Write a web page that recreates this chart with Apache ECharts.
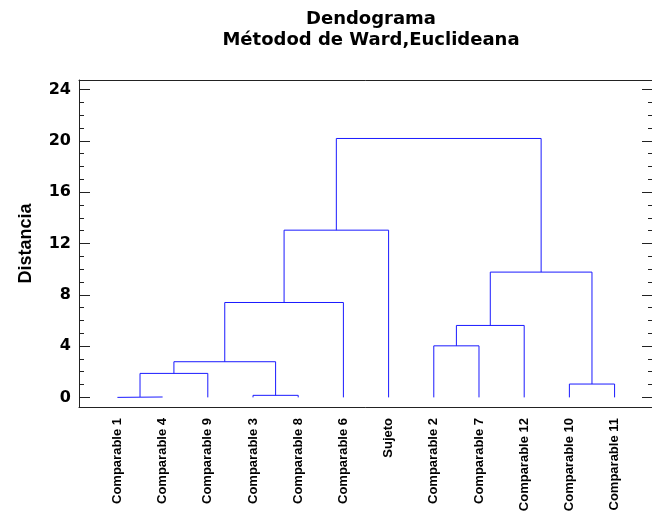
<!DOCTYPE html>
<html>
<head>
<meta charset="utf-8">
<script src="https://cdn.jsdelivr.net/npm/echarts@6/dist/echarts.min.js"></script>
<style>html,body{margin:0;padding:0;background:#fff}#c{width:652px;height:519px}</style>
</head>
<body>
<div id="c"></div>
<script>
// Leaves in dendrogram order
const leafNames = ['Comparable 1','Comparable 4','Comparable 9','Comparable 3','Comparable 8','Comparable 6','Sujeto','Comparable 2','Comparable 7','Comparable 12','Comparable 10','Comparable 11'];
// Merges: node ids 0..11 are leaves, each merge creates node 12, 13, ...
const mergeLeft   = [0, 12, 3, 13, 15, 16, 7, 18, 10, 19, 17];
const mergeRight  = [1, 2, 4, 14, 5, 6, 8, 9, 11, 20, 21];
const mergeHeight = [0.03, 1.87, 0.16, 2.78, 7.40, 13.04, 4.02, 5.61, 1.04, 9.77, 20.19];
const yTicksMajor = [0, 4, 8, 12, 16, 20, 24];
const yTicksMinor = [1,2,3,5,6,7,9,10,11,13,14,15,17,18,19,21,22,23];

const nodeX = leafNames.map((_, i) => i);
const nodeH = leafNames.map(() => 0);
const series = [];
for (let k = 0; k < mergeLeft.length; k++) {
  const a = mergeLeft[k], b = mergeRight[k], h = mergeHeight[k];
  series.push({
    type: 'line', xAxisIndex: 0, yAxisIndex: 0, showSymbol: false, symbol: 'none',
    animation: false, silent: true,
    lineStyle: { color: '#1a1aff', width: 1 },
    data: [[nodeX[a], nodeH[a]], [nodeX[a], h], [nodeX[b], h], [nodeX[b], nodeH[b]]]
  });
  nodeX.push((nodeX[a] + nodeX[b]) / 2);
  nodeH.push(h);
}

const yMin = -0.75, yMax = 24.75;
const xMin = -0.85, xMax = 11.85;
const axisColor = '#222';
const chart = echarts.init(document.getElementById('c'), null, { renderer: 'canvas' });
chart.setOption({
  animation: false,
  backgroundColor: '#fff',
  title: {
    text: 'Dendograma\nMétodod de Ward,Euclideana',
    left: 366, top: 4, textAlign: 'center',
    textStyle: { fontFamily: 'DejaVu Sans', fontWeight: 'bold', fontSize: 18, lineHeight: 21, color: '#000' }
  },
  grid: { left: 79, top: 80, width: 574, height: 327, containLabel: false, outerBoundsMode: 'none', show: false },
  xAxis: [{
    type: 'value', min: xMin, max: xMax, position: 'bottom',
    axisLine: { show: true, onZero: false, lineStyle: { color: axisColor } },
    axisTick: { show: false },
    splitLine: { show: false },
    axisLabel: {
      customValues: leafNames.map((_, i) => i),
      formatter: v => leafNames[Math.round(v)],
      rotate: 90, margin: 11,
      fontFamily: 'Liberation Sans', fontWeight: 'bold', fontSize: 13, color: '#000'
    }
  }, {
    type: 'value', min: xMin, max: xMax, position: 'top',
    axisLine: { show: true, onZero: false, lineStyle: { color: axisColor } },
    axisTick: { show: false }, axisLabel: { show: false }, splitLine: { show: false }
  }],
  yAxis: [{
    type: 'value', min: yMin, max: yMax, position: 'left',
    name: 'Distancia', nameLocation: 'middle', nameGap: 44, nameRotate: 90,
    nameTextStyle: { fontFamily: 'Liberation Sans', fontWeight: 'bold', fontSize: 18, color: '#000' },
    axisLine: { show: true, onZero: false, lineStyle: { color: axisColor } },
    axisTick: { show: true, inside: true, length: 11, customValues: yTicksMajor, lineStyle: { color: axisColor } },
    axisLabel: { customValues: yTicksMajor, margin: 8, fontFamily: 'DejaVu Sans', fontWeight: 'bold', fontSize: 16, color: '#000' },
    splitLine: { show: false }
  }, {
    type: 'value', min: yMin, max: yMax, position: 'left',
    axisLine: { show: false, onZero: false },
    axisTick: { show: true, inside: true, length: 5, customValues: yTicksMinor, lineStyle: { color: axisColor } },
    axisLabel: { show: false },
    splitLine: { show: false }
  }, {
    type: 'value', min: yMin, max: yMax, position: 'right',
    axisLine: { show: false, onZero: false },
    axisTick: { show: true, inside: true, length: 11, customValues: yTicksMajor, lineStyle: { color: axisColor } },
    axisLabel: { show: false },
    splitLine: { show: false }
  }, {
    type: 'value', min: yMin, max: yMax, position: 'right',
    axisLine: { show: false, onZero: false },
    axisTick: { show: true, inside: true, length: 5, customValues: yTicksMinor, lineStyle: { color: axisColor } },
    axisLabel: { show: false },
    splitLine: { show: false }
  }],
  series: series
});
</script>
</body>
</html>
